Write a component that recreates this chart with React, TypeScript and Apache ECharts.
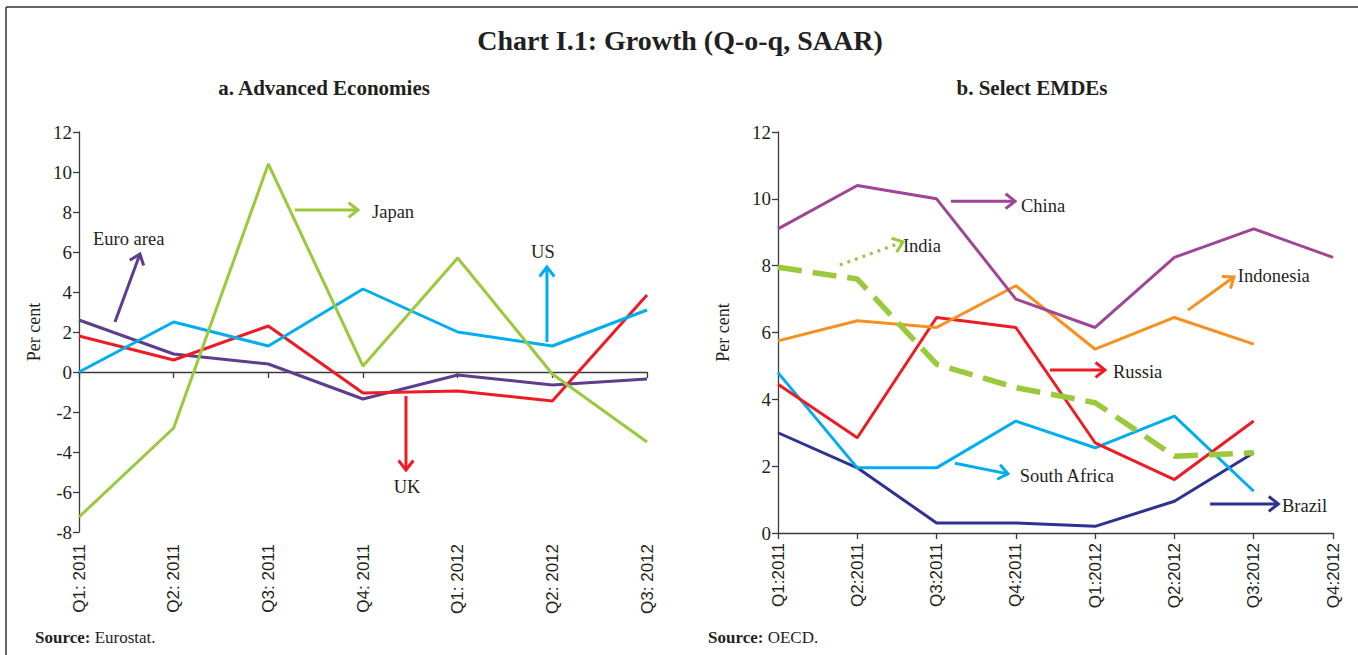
import React, { useEffect, useRef } from 'react';
import * as echarts from 'echarts';

// ---------- Data ----------
const leftCategories = ['Q1: 2011', 'Q2: 2011', 'Q3: 2011', 'Q4: 2011', 'Q1: 2012', 'Q2: 2012', 'Q3: 2012'];
const rightCategories = ['Q1:2011', 'Q2:2011', 'Q3:2011', 'Q4:2011', 'Q1:2012', 'Q2:2012', 'Q3:2012', 'Q4:2012'];

// a. Advanced Economies
const japan = [-7.25, -2.8, 10.4, 0.3, 5.7, -0.1, -3.5];
const us = [0, 2.5, 1.3, 4.15, 2.0, 1.3, 3.1];
const uk = [1.8, 0.6, 2.3, -1.05, -0.95, -1.45, 3.85];
const euroArea = [2.6, 0.9, 0.4, -1.35, -0.15, -0.65, -0.35];

// b. Select EMDEs
const china = [9.1, 10.4, 10.0, 7.0, 6.15, 8.25, 9.1, 8.25];
const indonesia = [5.75, 6.35, 6.15, 7.4, 5.5, 6.45, 5.65];
const russia = [4.45, 2.85, 6.45, 6.15, 2.7, 1.6, 3.35];
const india = [7.95, 7.6, 5.05, 4.35, 3.9, 2.3, 2.4];
const southAfrica = [4.8, 1.95, 1.95, 3.35, 2.55, 3.5, 1.25];
const brazil = [3.0, 1.95, 0.3, 0.3, 0.2, 0.95, 2.4];

const COLORS = {
  japan: '#9ACA3C',
  us: '#00AEEF',
  uk: '#ED1C24',
  euro: '#5C3D8E',
  china: '#9E4596',
  indonesia: '#F7901E',
  russia: '#ED1C24',
  india: '#9ACA3C',
  southAfrica: '#00AEEF',
  brazil: '#2E3192',
};

const TEXT = '#231F20';
const AXIS = '#3a3a3a';

type Ann = {
  grid: 0 | 1;
  from: [number, number];
  to: [number, number];
  color: string;
  dotted?: boolean;
  label: string;
  labelAt: [number, number];
  align: 'left' | 'center';
};

// annotation arrows in data coordinates (category index, value)
const annotations: Ann[] = [
  { grid: 0, from: [0.38, 2.5], to: [0.644, 5.9], color: COLORS.euro, label: 'Euro area', labelAt: [0.148, 6.65], align: 'left' },
  { grid: 0, from: [2.28, 8.1], to: [2.947, 8.1], color: COLORS.japan, label: 'Japan', labelAt: [3.095, 8.0], align: 'left' },
  { grid: 0, from: [4.943, 1.5], to: [4.943, 5.25], color: COLORS.us, label: 'US', labelAt: [4.9, 6.0], align: 'center' },
  { grid: 0, from: [3.454, -1.2], to: [3.454, -4.9], color: COLORS.uk, label: 'UK', labelAt: [3.465, -5.75], align: 'center' },
  { grid: 1, from: [2.18, 9.93], to: [2.99, 9.93], color: COLORS.china, label: 'China', labelAt: [3.065, 9.78], align: 'left' },
  { grid: 1, from: [0.78, 8.02], to: [1.576, 8.71], color: COLORS.india, dotted: true, label: 'India', labelAt: [1.576, 8.59], align: 'left' },
  { grid: 1, from: [5.17, 6.67], to: [5.75, 7.66], color: COLORS.indonesia, label: 'Indonesia', labelAt: [5.8, 7.69], align: 'left' },
  { grid: 1, from: [3.43, 4.88], to: [4.124, 4.88], color: COLORS.russia, label: 'Russia', labelAt: [4.225, 4.82], align: 'left' },
  { grid: 1, from: [2.232, 2.09], to: [2.9, 1.77], color: COLORS.southAfrica, label: 'South Africa', labelAt: [3.05, 1.71], align: 'left' },
  { grid: 1, from: [5.45, 0.87], to: [6.31, 0.87], color: COLORS.brazil, label: 'Brazil', labelAt: [6.356, 0.81], align: 'left' },
];

const SERIF = '"Liberation Serif", "DejaVu Serif", serif';
const SANS = '"Liberation Sans", "DejaVu Sans", sans-serif';

function lineSeries(name: string, data: number[], color: string, xAxisIndex: number, yAxisIndex: number, extra: any = {}) {
  return {
    name,
    type: 'line',
    data,
    xAxisIndex,
    yAxisIndex,
    symbol: 'none',
    lineStyle: { color, width: 3, ...(extra.lineStyle || {}) },
    z: extra.z ?? 2,
  };
}

export default function App() {
  const ref = useRef<HTMLDivElement>(null);

  useEffect(() => {
    if (!ref.current) return;
    const chart = echarts.init(ref.current, undefined, { renderer: 'svg' });

    const yAxisCommon = {
      type: 'value',
      axisLine: { show: true, lineStyle: { color: AXIS, width: 1.3 } },
      axisTick: { show: true, length: 6, lineStyle: { color: AXIS, width: 1.3 } },
      splitLine: { show: false },
      axisLabel: { color: TEXT, fontFamily: SERIF, fontSize: 19, margin: 7 },
      name: 'Per cent',
      nameLocation: 'middle',
      nameRotate: 90,
      nameTextStyle: { color: TEXT, fontFamily: SERIF, fontSize: 18 },
    };

    const option: any = {
      animation: false,
      backgroundColor: '#ffffff',
      grid: [
        { left: 79, top: 132, width: 568, height: 400 },
        { left: 778, top: 132, width: 555, height: 401 },
      ],
      xAxis: [
        {
          gridIndex: 0,
          type: 'category',
          data: leftCategories,
          boundaryGap: false,
          position: 'bottom',
          axisLine: { show: false, onZero: false },
          axisTick: { show: false },
          axisLabel: { rotate: 90, color: TEXT, fontFamily: SANS, fontSize: 17, margin: 12, interval: 0 },
        },
        {
          gridIndex: 0,
          type: 'category',
          data: leftCategories,
          boundaryGap: false,
          position: 'bottom',
          axisLine: { show: true, onZero: true, lineStyle: { color: AXIS, width: 1.3 } },
          axisTick: { show: true, length: 6, interval: 0, lineStyle: { color: AXIS, width: 1.3 } },
          axisLabel: { show: false },
        },
        {
          gridIndex: 1,
          type: 'category',
          data: rightCategories,
          boundaryGap: false,
          position: 'bottom',
          axisLine: { show: true, lineStyle: { color: AXIS, width: 1.3 } },
          axisTick: { show: true, length: 6, interval: 0, lineStyle: { color: AXIS, width: 1.3 } },
          axisLabel: { rotate: 90, color: TEXT, fontFamily: SANS, fontSize: 17, margin: 10, interval: 0 },
        },
      ],
      yAxis: [
        { ...yAxisCommon, gridIndex: 0, min: -8, max: 12, interval: 2, nameGap: 36 },
        { ...yAxisCommon, gridIndex: 1, min: 0, max: 12, interval: 2, nameGap: 46 },
      ],
      series: [
        lineSeries('Euro area', euroArea, COLORS.euro, 0, 0),
        lineSeries('UK', uk, COLORS.uk, 0, 0),
        lineSeries('US', us, COLORS.us, 0, 0),
        lineSeries('Japan', japan, COLORS.japan, 0, 0),
        lineSeries('Brazil', brazil, COLORS.brazil, 2, 1),
        lineSeries('South Africa', southAfrica, COLORS.southAfrica, 2, 1),
        lineSeries('Russia', russia, COLORS.russia, 2, 1),
        lineSeries('Indonesia', indonesia, COLORS.indonesia, 2, 1),
        lineSeries('India', india, COLORS.india, 2, 1, { lineStyle: { width: 5.5, type: [24, 11] } }),
        lineSeries('China', china, COLORS.china, 2, 1),
      ],
    };

    chart.setOption(option);

    const toPx = (grid: number, xi: number, yv: number): [number, number] => {
      const finder = { xAxisIndex: grid === 0 ? 0 : 2, yAxisIndex: grid };
      const i0 = Math.floor(xi);
      const p0 = chart.convertToPixel(finder as any, [i0, yv]) as number[];
      const p1 = chart.convertToPixel(finder as any, [i0 + 1, yv]) as number[];
      return [p0[0] + (p1[0] - p0[0]) * (xi - i0), p0[1]];
    };

    const graphics: any[] = [];
    // frame
    graphics.push({ type: 'line', shape: { x1: 6, y1: 7, x2: 1358, y2: 7 }, style: { stroke: '#333', lineWidth: 1.5 }, silent: true });
    graphics.push({ type: 'line', shape: { x1: 6, y1: 7, x2: 6, y2: 655 }, style: { stroke: '#333', lineWidth: 1.5 }, silent: true });
    // titles
    graphics.push({
      type: 'text', x: 680, y: 40,
      style: { text: 'Chart I.1: Growth (Q-o-q, SAAR)', fill: TEXT, font: `bold 28px ${SERIF}`, textAlign: 'center', textVerticalAlign: 'middle' },
    });
    graphics.push({
      type: 'text', x: 324, y: 88,
      style: { text: 'a. Advanced Economies', fill: TEXT, font: `bold 21px ${SERIF}`, textAlign: 'center', textVerticalAlign: 'middle' },
    });
    graphics.push({
      type: 'text', x: 1032, y: 88,
      style: { text: 'b. Select EMDEs', fill: TEXT, font: `bold 21px ${SERIF}`, textAlign: 'center', textVerticalAlign: 'middle' },
    });
    graphics.push({
      type: 'text', x: 35, y: 637,
      style: {
        text: '{b|Source:} Eurostat.', fill: TEXT, font: `17px ${SERIF}`, textVerticalAlign: 'middle',
        rich: { b: { fontWeight: 'bold', fontFamily: SERIF, fontSize: 17, fill: TEXT } },
      },
    });
    graphics.push({
      type: 'text', x: 708, y: 637,
      style: {
        text: '{b|Source:} OECD.', fill: TEXT, font: `17px ${SERIF}`, textVerticalAlign: 'middle',
        rich: { b: { fontWeight: 'bold', fontFamily: SERIF, fontSize: 17, fill: TEXT } },
      },
    });

    annotations.forEach((a) => {
      const p1 = toPx(a.grid, a.from[0], a.from[1]);
      const p2 = toPx(a.grid, a.to[0], a.to[1]);
      const dx = p2[0] - p1[0];
      const dy = p2[1] - p1[1];
      const len = Math.sqrt(dx * dx + dy * dy) || 1;
      const ux = -dx / len;
      const uy = -dy / len;
      const ang = (38 * Math.PI) / 180;
      const L = 12;
      const rot = (s: number): [number, number] => [
        p2[0] + L * (ux * Math.cos(s * ang) - uy * Math.sin(s * ang)),
        p2[1] + L * (ux * Math.sin(s * ang) + uy * Math.cos(s * ang)),
      ];
      graphics.push({
        type: 'line',
        shape: { x1: p1[0], y1: p1[1], x2: p2[0], y2: p2[1] },
        style: { stroke: a.color, lineWidth: 3, lineDash: a.dotted ? [3, 5] : null },
        silent: true,
      });
      graphics.push({
        type: 'polyline',
        shape: { points: [rot(1), p2, rot(-1)] },
        style: { stroke: a.color, lineWidth: 3, fill: null },
        silent: true,
      });
      const t = toPx(a.grid, a.labelAt[0], a.labelAt[1]);
      graphics.push({
        type: 'text', x: t[0], y: t[1],
        style: { text: a.label, fill: TEXT, font: `18.5px ${SERIF}`, textAlign: a.align, textVerticalAlign: 'middle' },
        silent: true,
      });
    });

    chart.setOption({ graphic: graphics });

    return () => {
      chart.dispose();
    };
  }, []);

  return (
    <div
      ref={ref}
      style={{ position: 'absolute', left: 0, top: 0, width: 1358, height: 655, background: '#fff' }}
    />
  );
}
